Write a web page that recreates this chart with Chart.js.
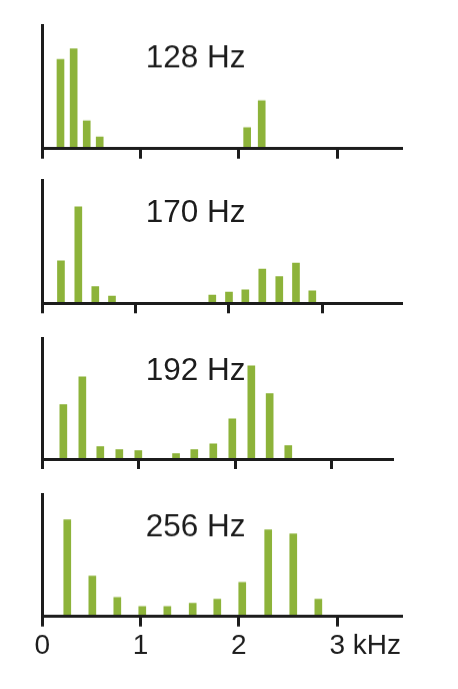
<!DOCTYPE html>
<html>
<head>
<meta charset="utf-8">
<script src="https://cdn.jsdelivr.net/npm/chart.js@4.4.1/dist/chart.umd.min.js"></script>
<style>
  html, body { margin: 0; padding: 0; background: #fff; }
  body { width: 458px; height: 689px; position: relative; overflow: hidden; }
  .panel { position: absolute; left: 0; width: 458px; }
</style>
</head>
<body>
<div class="panel" id="p0"><canvas id="c0"></canvas></div>
<div class="panel" id="p1"><canvas id="c1"></canvas></div>
<div class="panel" id="p2"><canvas id="c2"></canvas></div>
<div class="panel" id="p3"><canvas id="c3"></canvas></div>
<script>
// spectra: harmonic frequency (kHz) and relative amplitude (% of axis height)
const panelLabels = ['128 Hz', '170 Hz', '192 Hz', '256 Hz'];
const xTickValues = [0, 1, 2, 3];
const xUnit = 'kHz';

const freq128 = [0.185, 0.319, 0.452, 0.584, 2.084, 2.232];
const amp128 = [72.3, 80.7, 22.6, 9.5, 17.1, 38.9];

const freq170 = [0.200, 0.386, 0.568, 0.747, 1.822, 2.001, 2.176, 2.358, 2.540, 2.719, 2.894];
const amp170 = [34.5, 78.3, 13.5, 5.9, 6.7, 9.2, 11.0, 27.8, 21.6, 32.7, 10.2];

const freq192 = [0.218, 0.415, 0.601, 0.798, 0.995, 1.386, 1.575, 1.772, 1.969, 2.166, 2.356, 2.549];
const amp192 = [44.9, 68.0, 10.2, 7.7, 6.9, 4.4, 7.7, 12.6, 33.3, 77.1, 54.0, 11.0];

const freq256 = [0.254, 0.509, 0.763, 1.017, 1.272, 1.530, 1.780, 2.034, 2.298, 2.553, 2.808];
const amp256 = [78.9, 32.9, 15.6, 8.2, 8.2, 10.7, 14.0, 27.9, 70.7, 67.4, 14.0];

const panelFreqs = [freq128, freq170, freq192, freq256];
const panelAmps = [amp128, amp170, amp192, amp256];
const xMax = [3.654, 3.85, 3.629, 3.654];

const ink = '#1c1c1c';
const barGreen = '#8db33a';
const fontFamily = "'Liberation Sans', Arial, sans-serif";

// where each panel sits on the page (y-axis top, plot height, x-axis right end)
const layout = [
    {top: 25, height: 122.7, right: 401.5},
    {top: 180, height: 123.3, right: 401.5},
    {top: 338.3, height: 121, right: 392.5},
    {top: 494.3, height: 121.7, right: 401.5}
];
const padTop = 8;
const plotLeft = 42.3;

const panelTitle = {
    id: 'panelTitle',
    afterDraw(chart, args, opts) {
        const {ctx, chartArea} = chart;
        ctx.save();
        ctx.font = `31.5px ${fontFamily}`;
        ctx.fillStyle = ink;
        ctx.textAlign = 'left';
        ctx.textBaseline = 'alphabetic';
        ctx.fillText(opts.text, chartArea.left + 103.5, chartArea.top + 42);
        ctx.restore();
    }
};

// puts "kHz" after the last tick label, on the same line
const unitLabel = {
    id: 'unitLabel',
    afterDraw(chart, args, opts) {
        if (!opts.text) return;
        const scale = chart.scales.x;
        const {ctx} = chart;
        ctx.save();
        ctx.font = `28px ${fontFamily}`;
        ctx.fillStyle = ink;
        ctx.textAlign = 'left';
        const last = String(xTickValues[xTickValues.length - 1]);
        const items = scale.getLabelItems ? scale.getLabelItems() : [];
        const item = items.find(it => String(it.label) === last);
        const x = scale.getPixelForValue(Number(last)) + ctx.measureText(last).width / 2 + ctx.measureText(' ').width;
        if (item) {
            ctx.textBaseline = item.options.textBaseline;
            ctx.fillText(opts.text, x, item.options.translation[1] + item.textOffset);
        } else {
            ctx.textBaseline = 'alphabetic';
            ctx.fillText(opts.text, x, chart.chartArea.bottom + 39);
        }
        ctx.restore();
    }
};

const makePanel = (i) => {
    const box = layout[i];
    const isBottom = i === layout.length - 1;
    const axisHeight = isBottom ? 52 : 14;
    const wrap = document.getElementById('p' + i);
    wrap.style.top = (box.top - padTop) + 'px';
    wrap.style.height = (padTop + box.height + axisHeight) + 'px';

    const points = panelFreqs[i].map((f, k) => ({x: f, y: panelAmps[i][k]}));

    new Chart(document.getElementById('c' + i), {
        type: 'bar',
        data: {
            datasets: [{
                data: points,
                backgroundColor: barGreen,
                borderWidth: 0,
                barThickness: 7
            }]
        },
        options: {
            responsive: true,
            maintainAspectRatio: false,
            animation: false,
            devicePixelRatio: 1,
            layout: {
                padding: {top: padTop, left: plotLeft, right: 458 - box.right, bottom: 0}
            },
            scales: {
                x: {
                    type: 'linear',
                    offset: false,
                    min: 0,
                    max: xMax[i],
                    afterFit: (s) => { s.height = axisHeight; },
                    grid: {
                        display: true,
                        offset: false,
                        drawOnChartArea: false,
                        drawTicks: true,
                        tickLength: 10,
                        color: ink,
                        lineWidth: 3
                    },
                    border: {display: true, color: ink, width: 3, z: 1},
                    ticks: {
                        display: isBottom,
                        stepSize: 1,
                        includeBounds: false,
                        autoSkip: false,
                        maxRotation: 0,
                        padding: 3,
                        color: ink,
                        font: {family: fontFamily, size: 28},
                        callback: (v) => xTickValues.includes(v) ? String(v) : ''
                    }
                },
                y: {
                    min: 0,
                    max: 100,
                    afterFit: (s) => { s.width = 0; },
                    grid: {display: false},
                    border: {display: true, color: ink, width: 3, z: 1},
                    ticks: {display: false}
                }
            },
            plugins: {
                legend: {display: false},
                tooltip: {enabled: false},
                panelTitle: {text: panelLabels[i]},
                unitLabel: {text: isBottom ? xUnit : ''}
            }
        },
        plugins: [panelTitle, unitLabel]
    });
};

layout.forEach((box, i) => makePanel(i));
</script>
</body>
</html>
